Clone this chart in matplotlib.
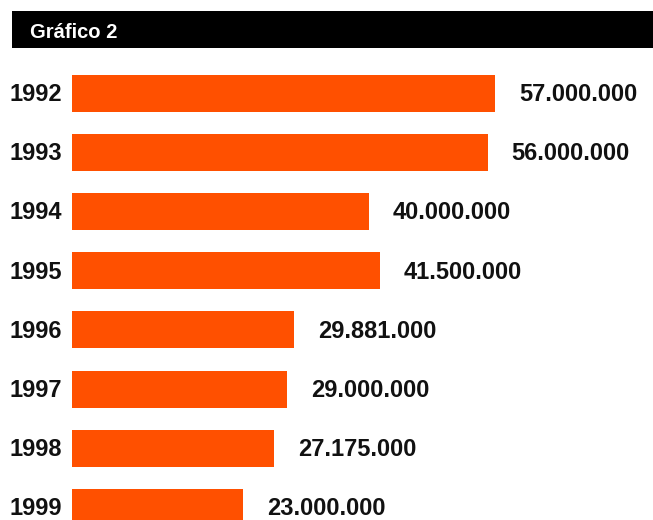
import matplotlib.pyplot as plt
from matplotlib.patches import Rectangle

# Data
years = ["1992", "1993", "1994", "1995", "1996", "1997", "1998", "1999"]
values = [57000000, 56000000, 40000000, 41500000, 29881000, 29000000, 27175000, 23000000]
labels = ["57.000.000", "56.000.000", "40.000.000", "41.500.000",
          "29.881.000", "29.000.000", "27.175.000", "23.000.000"]
title = "Gráfico 2"

bar_color = "#FF5000"
font = "Liberation Sans"

W, H = 653, 520
fig = plt.figure(figsize=(W / 100, H / 100), dpi=100)
fig.patch.set_facecolor("white")

# Header band
fig.patches.append(Rectangle((12 / W, 1 - 48 / H), 1 - 12 / W, 37 / H,
                             transform=fig.transFigure, facecolor="black",
                             edgecolor="none", zorder=0))
fig.text(30 / W, 1 - 31 / H, title, color="white", fontsize=14.5,
         fontweight="bold", family=font, va="center_baseline", ha="left")

# Bars axis: left edge at x=72px, full height; rows spaced 59.2px, first at y=93
left = 72 / W
ax = fig.add_axes([left, 0, 1 - left, 1])
ax.set_axis_off()
step = 59.2
ax.set_ylim((H - 93) / step, -93 / step)
ax.set_xlim(0, (W - 72) * 57000000 / 423)

pos = list(range(len(years)))
ax.barh(pos, values, height=37 / step, color=bar_color, edgecolor="none")

for y, v, lab, yr in zip(pos, values, labels, years):
    ax.annotate(lab, (v, y), xytext=(24, 1), textcoords="offset pixels",
                ha="left", va="center_baseline", fontsize=17, fontweight="bold",
                family=font, color="#111111")
    ax.annotate(yr, (0, y), xytext=(-10, 1), textcoords="offset pixels",
                ha="right", va="center_baseline", fontsize=17, fontweight="bold",
                family=font, color="#111111")

fig.savefig("out.png", dpi=100)
